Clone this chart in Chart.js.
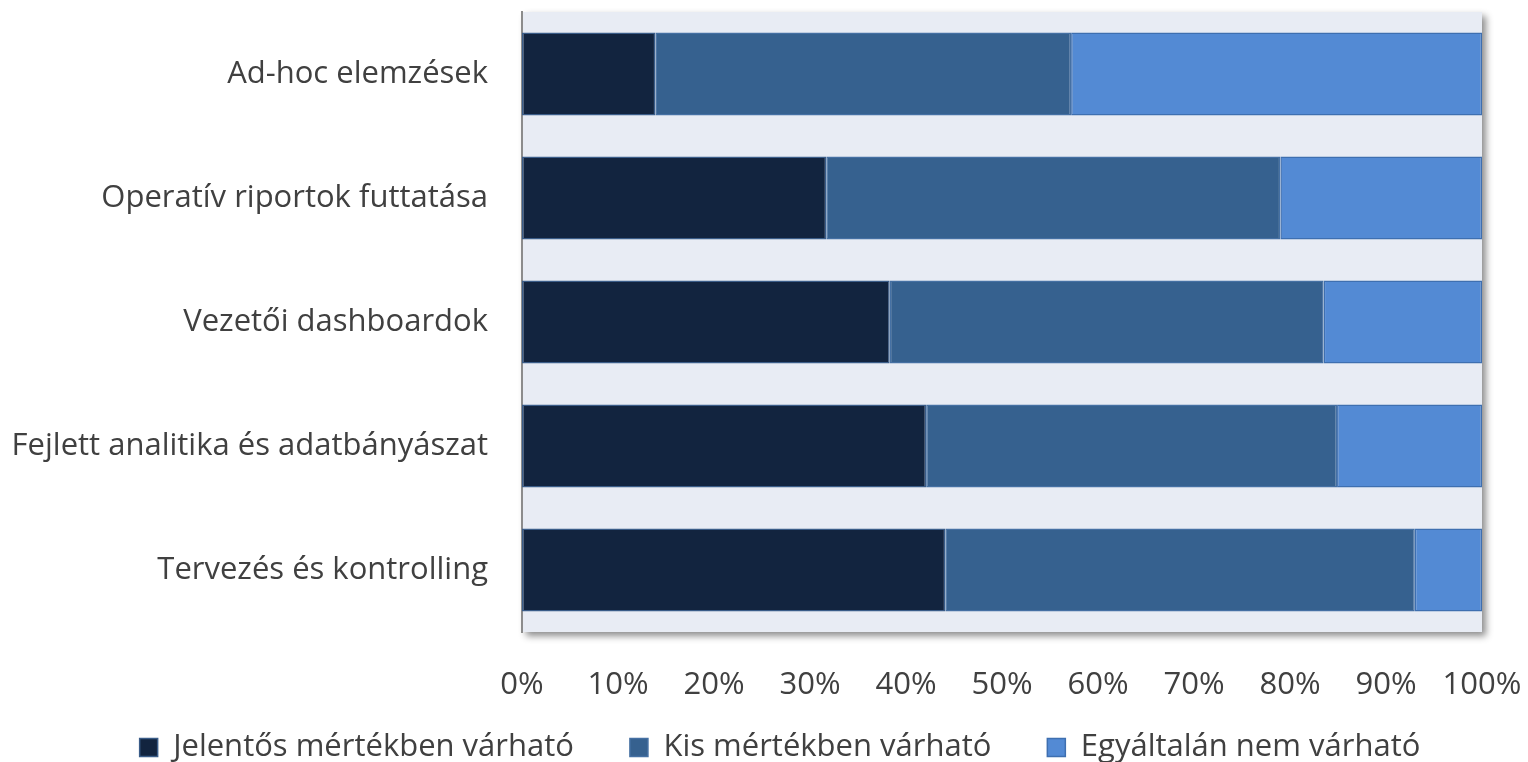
<!DOCTYPE html>
<html>
<head>
<meta charset="utf-8">
<script src="https://cdn.jsdelivr.net/npm/chart.js@4.4.1/dist/chart.umd.min.js"></script>
<style>
  html, body { margin: 0; padding: 0; background: #ffffff; }
  #wrap { width: 1528px; height: 762px; position: relative; }
</style>
</head>
<body>
<div id="wrap"><canvas id="chart"></canvas></div>
<script>
const categories = [
  "Ad-hoc elemzések",
  "Operatív riportok futtatása",
  "Vezetői dashboardok",
  "Fejlett analitika és adatbányászat",
  "Tervezés és kontrolling",
];
const significant = [13.9, 31.7, 38.3, 42.1, 44.1];
const minor = [43.3, 47.3, 45.2, 42.8, 48.9];
const notExpected = [42.8, 21.0, 16.5, 15.1, 7.0];
const seriesNames = ["Jelentős mértékben várható", "Kis mértékben várható", "Egyáltalán nem várható"];
const xTicks = [0, 10, 20, 30, 40, 50, 60, 70, 80, 90, 100];

const FONT = "'Open Sans'";
const FONT_SIZE = 31;
const TEXT = "#404040";

// plot area background with the soft drop shadow
const plotBackground = {
  id: "plotBackground",
  beforeDraw(chart) {
    const { ctx, chartArea } = chart;
    ctx.save();
    ctx.shadowColor = "rgba(0, 0, 0, 0.45)";
    ctx.shadowBlur = 7;
    ctx.shadowOffsetX = 4;
    ctx.shadowOffsetY = 4;
    ctx.fillStyle = "#e8ecf4";
    ctx.fillRect(chartArea.left, chartArea.top, chartArea.right - chartArea.left, chartArea.bottom - chartArea.top);
    ctx.restore();
  },
};

// legend: small reserved height, then moved to where the original has it
const legendPlacement = {
  id: "legendPlacement",
  beforeInit(chart) {
    const legend = chart.legend;
    const fit = legend.fit;
    legend.fit = function () {
      fit.call(this);
      this.height = 56;
    };
  },
  afterLayout(chart) {
    const legend = chart.legend;
    legend.left = 78;
    legend.right = 1482;
    legend.top = 676;
    legend.bottom = 762;
    legend.adjustHitBoxes();
  },
};

function dataset(label, data, fill, border) {
  return {
    label,
    data,
    backgroundColor: fill,
    borderColor: border,
    borderWidth: 1.5,
    borderSkipped: false,
    categoryPercentage: 1,
    barPercentage: 0.67,
  };
}

new Chart(document.getElementById("chart"), {
  type: "bar",
  data: {
    labels: categories,
    datasets: [
      dataset(seriesNames[0], significant, "#12243f", "#3a5c88"),
      dataset(seriesNames[1], minor, "#36618f", "#4570a3"),
      dataset(seriesNames[2], notExpected, "#538ad4", "#3e6fb0"),
    ],
  },
  options: {
    indexAxis: "y",
    responsive: true,
    maintainAspectRatio: false,
    animation: false,
    layout: { padding: { top: 12, right: 46, left: 0, bottom: 0 } },
    plugins: {
      legend: {
        position: "bottom",
        labels: {
          color: TEXT,
          font: { family: FONT, size: FONT_SIZE },
          boxWidth: 18,
          boxHeight: 18,
          padding: 56,
        },
      },
      tooltip: { enabled: false },
    },
    scales: {
      x: {
        stacked: true,
        min: 0,
        max: 100,
        afterBuildTicks(scale) {
          scale.ticks = xTicks.map((v) => ({ value: v }));
        },
        afterFit(scale) {
          scale.height = 74;
          scale.paddingLeft = 0;
          scale.paddingRight = 0;
        },
        grid: { display: false },
        border: { display: false },
        ticks: {
          color: TEXT,
          font: { family: FONT, size: FONT_SIZE },
          padding: 27,
          maxRotation: 0,
          autoSkip: false,
          callback: (v) => v + "%",
        },
      },
      y: {
        stacked: true,
        afterFit(scale) {
          scale.width = 522;
          scale.paddingTop = 0;
          scale.paddingBottom = 0;
        },
        grid: { display: false, drawTicks: false },
        border: { display: true, color: "#8c8c8c", width: 2 },
        ticks: {
          color: TEXT,
          font: { family: FONT, size: FONT_SIZE },
          padding: 34,
        },
      },
    },
  },
  plugins: [plotBackground, legendPlacement],
});
</script>
</body>
</html>
